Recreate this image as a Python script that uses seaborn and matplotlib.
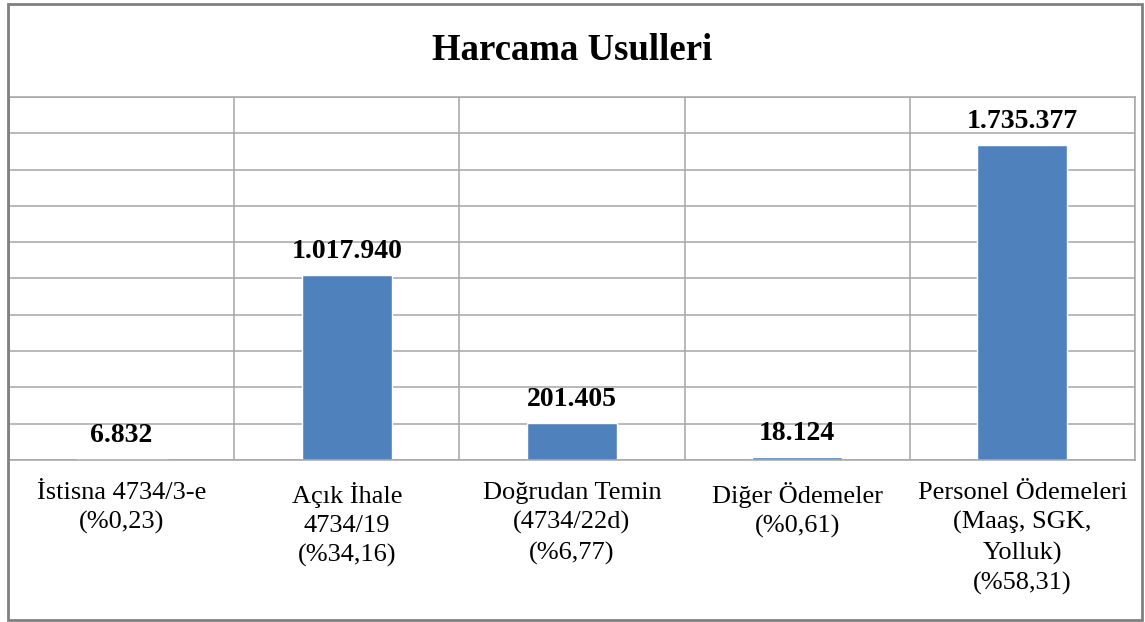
import numpy as np
import pandas as pd
import seaborn as sns
import matplotlib.pyplot as plt
from matplotlib.patches import Rectangle

categories = [
    "İstisna 4734/3-e\n(%0,23)",
    "Açık İhale\n4734/19\n(%34,16)",
    "Doğrudan Temin\n(4734/22d)\n(%6,77)",
    "Diğer Ödemeler\n(%0,61)",
    "Personel Ödemeleri\n(Maaş, SGK,\nYolluk)\n(%58,31)",
]
values = [6832, 1017940, 201405, 18124, 1735377]
value_labels = ["6.832", "1.017.940", "201.405", "18.124", "1.735.377"]

sns.set_style("white")
plt.rcParams["font.family"] = ["Liberation Serif", "DejaVu Serif"]
plt.rcParams["text.color"] = "black"
plt.rcParams["xtick.color"] = "black"

W, H = 1145, 622
fig = plt.figure(figsize=(W / 100, H / 100), dpi=100)
ax = fig.add_axes([9 / W, (H - 460) / H, (1135 - 9) / W, (460 - 97) / H])

df = pd.DataFrame({"cat": categories, "val": values})
sns.barplot(data=df, x="cat", y="val", color="#4F81BD", width=0.4,
            saturation=1, ax=ax)

ax.set_ylim(0, 2000000)
ax.set_yticks(np.arange(0, 2000001, 200000))
ax.set_yticklabels([])
ax.set_xlim(-0.5, len(categories) - 0.5)
ax.set_xticks(np.arange(-0.5, len(categories), 1), minor=True)
ax.grid(True, axis="y", which="major", color="#a6a6a6", linewidth=1.1)
ax.grid(True, axis="x", which="minor", color="#a6a6a6", linewidth=1.1)
ax.set_axisbelow(True)
ax.tick_params(axis="both", which="both", length=0)
ax.tick_params(axis="x", which="major", pad=16, labelsize=19,
               labelcolor="black")
ax.set_xlabel("")
ax.set_ylabel("")
for s in ax.spines.values():
    s.set_color("#a6a6a6")
    s.set_linewidth(1.1)

for i, (v, t) in enumerate(zip(values, value_labels)):
    ax.annotate(t, (i, v), xytext=(0, 8), textcoords="offset points",
                ha="center", va="bottom", fontsize=20, fontweight="bold",
                color="black")

fig.text(0.5, 1 - 51 / H, "Harcama Usulleri", ha="center", va="center",
         fontsize=26.5, fontweight="bold", color="black")

fig.patches.append(Rectangle((8 / W, 2 / H), (1142 - 8) / W, (618 - 2) / H,
                             transform=fig.transFigure, fill=False,
                             edgecolor="#808080", linewidth=2))

fig.canvas.draw()
for lbl in ax.get_xticklabels():
    lbl.set_linespacing(1.4)

fig.savefig("out.png", dpi=100)
